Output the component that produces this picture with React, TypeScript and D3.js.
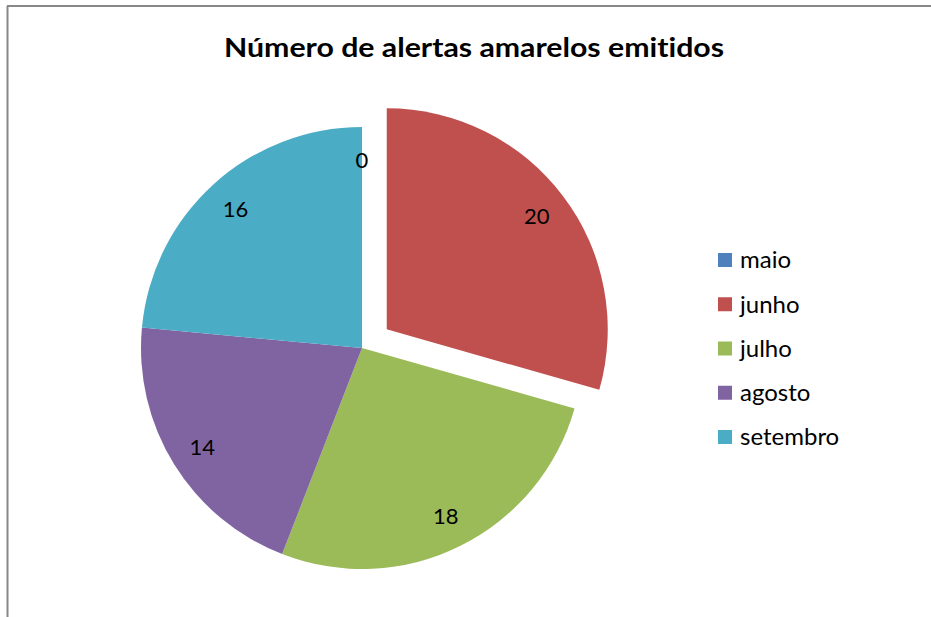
import React from "react";
import * as d3 from "d3";

const categories = ["maio", "junho", "julho", "agosto", "setembro"];
const values = [0, 20, 18, 14, 16];
const colors = ["#4F81BD", "#C0504D", "#9BBB59", "#8064A2", "#4BACC6"];
const explode = [0, 31, 0, 0, 0];
const title = "Número de alertas amarelos emitidos";

const W = 931;
const H = 617;
const cx = 362;
const cy = 348;
const R = 221;
const FONT = "Lato, 'Open Sans', sans-serif";
const noLig = { fontVariantLigatures: "none" as const };

export default function App() {
  const data = categories.map((c, i) => ({ c, v: values[i], color: colors[i], ex: explode[i] }));
  const pie = d3.pie<any>().value((d) => d.v).sort(null);
  const arcs = pie(data);
  const arc = d3.arc<any>().innerRadius(0).outerRadius(R);
  const labelArc = d3.arc<any>().innerRadius(0).outerRadius(R * 1.7);
  const legendY = d3.scalePoint<string>().domain(categories).range([260, 437]);
  const off = (a: any) => {
    const mid = (a.startAngle + a.endAngle) / 2;
    return [Math.sin(mid) * a.data.ex, -Math.cos(mid) * a.data.ex];
  };

  return (
    <svg width={W} height={H} style={{ position: "absolute", left: 0, top: 0, background: "#fff" }}>
      <rect x={0} y={0} width={W} height={H} fill="#fff" />
      <line x1={7.5} y1={6} x2={7.5} y2={H} stroke="#888" strokeWidth={2} />
      <line x1={7} y1={6} x2={W} y2={6} stroke="#888" strokeWidth={2} />
      <text x={474} y={57} textAnchor="middle" fontFamily={FONT} fontWeight="bold" fontSize={26} fill="#000" textLength={500} lengthAdjust="spacingAndGlyphs" style={noLig}>
        {title}
      </text>
      {arcs.map((a, i) => {
        const [dx, dy] = off(a);
        return (
          <path key={"p" + i} transform={`translate(${cx + dx},${cy + dy})`} d={arc(a) || ""} fill={a.data.color} />
        );
      })}
      {arcs.map((a, i) => {
        const [dx, dy] = off(a);
        const [lx, ly] = labelArc.centroid(a);
        return (
          <text key={"t" + i} x={cx + dx + lx} y={cy + dy + ly} dy="0.35em" textAnchor="middle" fontFamily={FONT} fontSize={22} fill="#000" style={noLig}>
            {a.data.v}
          </text>
        );
      })}
      {categories.map((c, i) => (
        <g key={c} transform={`translate(718,${legendY(c)})`}>
          <rect x={0} y={-7} width={14} height={14} fill={colors[i]} />
          <text x={22} y={0} dy="0.35em" fontFamily={FONT} fontSize={24} fill="#000" style={noLig}>
            {c}
          </text>
        </g>
      ))}
    </svg>
  );
}
